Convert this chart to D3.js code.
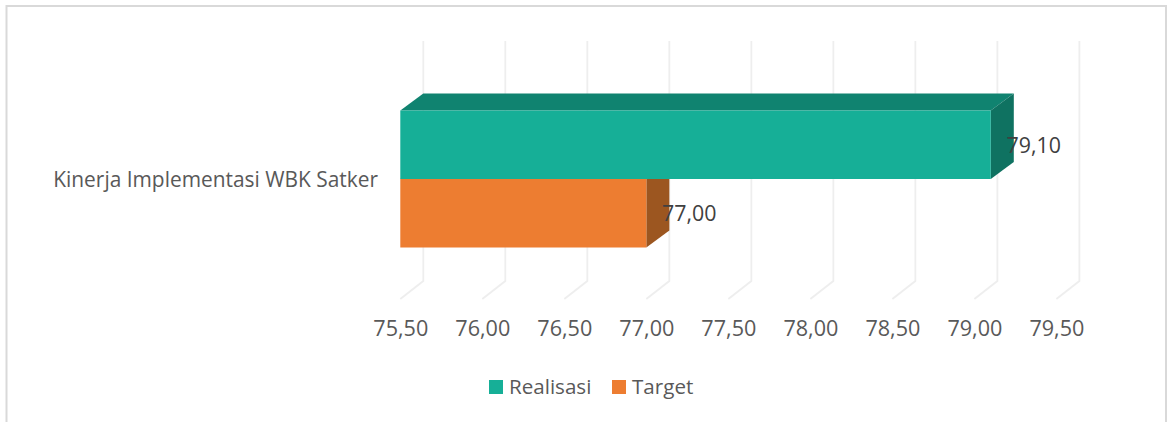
<!DOCTYPE html>
<html><head><meta charset="utf-8">
<script src="https://cdnjs.cloudflare.com/ajax/libs/d3/7.8.5/d3.min.js"></script>
<style>html,body{margin:0;padding:0;background:#fff}svg{display:block}text{font-family:"Open Sans",sans-serif}</style>
</head><body><svg id="c" width="1169" height="422"></svg>
<script>
const categories = ["Kinerja Implementasi WBK Satker"];
const seriesNames = ["Realisasi", "Target"];
const realisasi = [79.10];
const target = [77.00];
const tickValues = [75.5, 76, 76.5, 77, 77.5, 78, 78.5, 79, 79.5];
const labelOf = v => v.toFixed(2).replace(".", ",");

const svg = d3.select("#c");
const depthX = 23, depthY = 17;
const x = d3.scaleLinear().domain([75.5, 79.5]).range([400.3, 1056.4]);
const ySeries = d3.scaleBand().domain(seriesNames).range([110.5, 247.5]);
const gridTop = 41, gridBottom = 281;

// Frame
svg.append("path").attr("d","M6.5,422V6H1166V422").attr("fill","none").attr("stroke","#d9d9d9").attr("stroke-width",2);

// 3D gridlines (back wall + floor)
svg.append("g").selectAll("path").data(tickValues).join("path")
  .attr("d", d => {
    const px = x(d);
    return `M${px+depthX},${gridTop}V${gridBottom}L${px},${gridBottom+depthY+1}`;
  })
  .attr("fill","none").attr("stroke","#eeeeee").attr("stroke-width",1.8);

// Axis labels
const axis = d3.axisBottom(x).tickValues(tickValues).tickFormat(labelOf).tickSize(0).tickPadding(0);
const ax = svg.append("g").attr("transform","translate(0,321)").call(axis);
ax.select(".domain").remove();
ax.selectAll("text").attr("font-size",21.6).attr("fill","#595959").attr("font-family",'"Open Sans",sans-serif').attr("dy","0.71em");

// Category label
svg.append("g").selectAll("text").data(categories).join("text")
  .attr("x",378).attr("y",187).attr("text-anchor","end")
  .attr("font-size",20.9).attr("fill","#595959").text(d => d);

// Bars
const series = [
  {name: seriesNames[0], value: realisasi[0], front:"#16af97", top:"#108370", side:"#0f7261"},
  {name: seriesNames[1], value: target[0], front:"#ed7d31", top:"#b05e25", side:"#9c5620"}
];
const bars = svg.append("g");
// Draw the lower bar first so the upper bar's side face stays on top
[...series].reverse().forEach(s => {
  const x0 = x.range()[0], x1 = x(s.value), yt = ySeries(s.name), h = ySeries.bandwidth();
  const g = bars.append("g");
  g.append("path").attr("fill",s.top).attr("d",`M${x0},${yt}L${x0+depthX},${yt-depthY}H${x1+depthX}L${x1},${yt}Z`);
  g.append("path").attr("fill",s.side).attr("d",`M${x1},${yt}L${x1+depthX},${yt-depthY}V${yt+h-depthY}L${x1},${yt+h}Z`);
  g.append("rect").attr("fill",s.front).attr("x",x0).attr("y",yt).attr("width",x1-x0).attr("height",h);
});

// Data labels
svg.append("g").selectAll("text").data(series).join("text")
  .attr("x", d => x(d.value) + 43).attr("y", d => ySeries(d.name) + 42)
  .attr("text-anchor","middle").attr("font-size",21.4).attr("fill","#404040")
  .text(d => labelOf(d.value));

// Legend
const legendX = [489, 612], legendText = [509, 632];
const lg = svg.append("g");
series.forEach((s,i) => {
  lg.append("rect").attr("x",legendX[i]).attr("y",380).attr("width",14).attr("height",14).attr("fill",s.front);
  lg.append("text").attr("x",legendText[i]).attr("y",394).attr("font-size",20.6).attr("fill","#595959").text(s.name);
});
</script></body></html>
